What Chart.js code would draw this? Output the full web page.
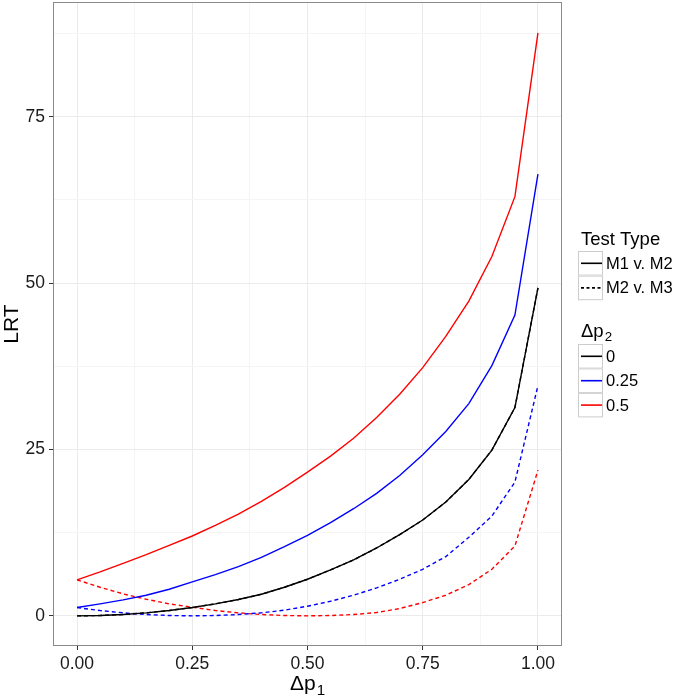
<!DOCTYPE html>
<html>
<head>
<meta charset="utf-8">
<script src="https://cdn.jsdelivr.net/npm/chart.js@4.4.1/dist/chart.umd.min.js"></script>
<style>
  html, body { margin: 0; padding: 0; background: #fff; }
  #wrap { width: 677px; height: 696px; }
</style>
</head>
<body>
<div id="wrap"><canvas id="chart" width="677" height="696"></canvas></div>
<script>
// x values (delta p1)
const dp1 = [0, 0.05, 0.1, 0.15, 0.2, 0.25, 0.3, 0.35, 0.4, 0.45, 0.5,
             0.55, 0.6, 0.65, 0.7, 0.75, 0.8, 0.85, 0.9, 0.95, 1];

// M1 v. M2 (solid)
const m12_dp0  = [0, 0.05, 0.2, 0.45, 0.8, 1.25, 1.8, 2.45, 3.25, 4.3, 5.5,
                  6.9, 8.4, 10.2, 12.2, 14.4, 17.1, 20.5, 24.9, 31.3, 49.3];
const m12_dp25 = [1.25, 1.8, 2.4, 3.1, 4.0, 5.1, 6.2, 7.4, 8.8, 10.4, 12.1,
                  14.0, 16.1, 18.4, 21.1, 24.2, 27.7, 31.9, 37.6, 45.2, 66.4];
const m12_dp50 = [5.4, 6.6, 7.9, 9.2, 10.6, 12.0, 13.6, 15.3, 17.2, 19.3, 21.6,
                  24.0, 26.7, 29.8, 33.3, 37.3, 42.0, 47.3, 54.0, 63.0, 87.6];

// M2 v. M3 (dashed) - the dp2 = 0 curve sits under the solid black one
const m23_dp0  = [0, 0.05, 0.2, 0.45, 0.8, 1.25, 1.8, 2.45, 3.25, 4.3, 5.5,
                  6.9, 8.4, 10.2, 12.2, 14.4, 17.1, 20.5, 24.9, 31.3, 49.3];
const m23_dp25 = [1.25, 0.8, 0.45, 0.2, 0.05, 0, 0.05, 0.2, 0.45, 0.85, 1.45,
                  2.2, 3.1, 4.2, 5.5, 7.0, 8.9, 11.8, 15.0, 20.1, 34.6];
const m23_dp50 = [5.4, 4.3, 3.3, 2.5, 1.8, 1.3, 0.8, 0.45, 0.2, 0.05, 0,
                  0.05, 0.2, 0.5, 1.1, 2.0, 3.1, 4.7, 7.0, 10.5, 21.9];

// axes
const xTicks = [0, 0.25, 0.5, 0.75, 1];
const xTickLabels = ['0.00', '0.25', '0.50', '0.75', '1.00'];
const xMinor = [0.125, 0.375, 0.625, 0.875];
const yTicks = [0, 25, 50, 75];
const yTickLabels = ['0', '25', '50', '75'];
const yMinor = [12.5, 37.5, 62.5, 87.5];

// legend
const testTypes = ['M1 v. M2', 'M2 v. M3'];
const dp2Labels = ['0', '0.25', '0.5'];
const dp2Colors = ['#000000', '#0000ff', '#ff0000'];

const FONT = 'Helvetica, "Liberation Sans", Arial, sans-serif';

const pts = (ys) => dp1.map((x, i) => ({ x: x, y: ys[i] }));

function series(label, ys, color, dashed) {
  return {
    label: label,
    data: pts(ys),
    borderColor: color,
    borderWidth: 1.4,
    borderDash: dashed ? [4, 3] : [],
    pointRadius: 0,
    tension: 0,
    fill: false
  };
}

// index 0 is drawn on top
const datasets = [
  series('M1 v. M2, 0', m12_dp0, dp2Colors[0], false),
  series('M1 v. M2, 0.25', m12_dp25, dp2Colors[1], false),
  series('M1 v. M2, 0.5', m12_dp50, dp2Colors[2], false),
  series('M2 v. M3, 0.25', m23_dp25, dp2Colors[1], true),
  series('M2 v. M3, 0.5', m23_dp50, dp2Colors[2], true),
  series('M2 v. M3, 0', m23_dp0, dp2Colors[0], true)
];

function gridFor(major, minor, labels) {
  return {
    afterBuildTicks: (s) => {
      s.ticks = major.concat(minor).sort((a, b) => a - b).map(v => ({ value: v }));
    },
    ticks: {
      autoSkip: false,
      maxRotation: 0,
      padding: 4,
      color: '#1a1a1a',
      font: { family: FONT, size: 17.5 },
      callback: (v) => {
        const i = major.indexOf(v);
        return i >= 0 ? labels[i] : '';
      }
    },
    grid: {
      color: (c) => major.indexOf(c.tick.value) >= 0 ? '#ebebeb' : '#f5f5f5',
      lineWidth: 1,
      tickLength: 5,
      tickWidth: 1,
      tickColor: (c) => major.indexOf(c.tick.value) >= 0 ? '#333333' : 'rgba(0,0,0,0)'
    },
    border: { display: false }
  };
}

const xScale = Object.assign({ type: 'linear', min: -0.05, max: 1.05,
  afterFit: (s) => { s.height = 51; s.paddingLeft = 0; s.paddingRight = 0; }
}, gridFor(xTicks, xMinor, xTickLabels));

const yScale = Object.assign({ type: 'linear', min: -4.38, max: 92.1,
  afterFit: (s) => { s.width = 54; s.paddingTop = 0; s.paddingBottom = 0; },
  title: { display: true, text: 'LRT', color: '#000',
           font: { family: FONT, size: 21 }, padding: { top: 0, bottom: 0 } }
}, gridFor(yTicks, yMinor, yTickLabels));

// draws text with a lowered, smaller subscript
function subText(ctx, base, sub, x, y, size, align) {
  ctx.font = size + 'px ' + FONT;
  const wb = ctx.measureText(base).width;
  const subSize = size * 0.72;
  ctx.font = subSize + 'px ' + FONT;
  const ws = ctx.measureText(sub).width;
  let x0 = x;
  if (align === 'center') x0 = x - (wb + ws + 1) / 2;
  ctx.textAlign = 'left';
  ctx.textBaseline = 'alphabetic';
  ctx.font = size + 'px ' + FONT;
  ctx.fillText(base, x0, y);
  ctx.font = subSize + 'px ' + FONT;
  ctx.fillText(sub, x0 + wb + 1, y + size * 0.22);
}

const ggExtras = {
  id: 'ggExtras',
  afterDraw(chart) {
    const ctx = chart.ctx;
    const a = chart.chartArea;
    ctx.save();

    // panel border
    ctx.strokeStyle = '#8a8a8a';
    ctx.lineWidth = 1;
    ctx.setLineDash([]);
    ctx.strokeRect(a.left - 0.5, a.top - 0.5, a.right - a.left + 1, a.bottom - a.top + 1);

    // x axis title
    ctx.fillStyle = '#000';
    subText(ctx, '\u0394p', '1', (a.left + a.right) / 2, 690, 21, 'center');

    // legend: Test Type
    const boxX = 578, boxW = 25, rowH = 24.6, labX = 606;
    ctx.font = '18.5px ' + FONT;
    ctx.textAlign = 'left';
    ctx.textBaseline = 'alphabetic';
    ctx.fillText('Test Type', 581, 245);

    function key(top, color, dash, label) {
      ctx.fillStyle = '#fff';
      ctx.fillRect(boxX, top, boxW, rowH);
      ctx.strokeStyle = '#cccccc';
      ctx.lineWidth = 1;
      ctx.setLineDash([]);
      ctx.strokeRect(boxX + 0.5, top + 0.5, boxW - 1, rowH - 1);
      ctx.strokeStyle = color;
      ctx.lineWidth = 1.6;
      ctx.setLineDash(dash);
      ctx.beginPath();
      ctx.moveTo(boxX + 3, top + rowH / 2);
      ctx.lineTo(boxX + boxW - 1, top + rowH / 2);
      ctx.stroke();
      ctx.setLineDash([]);
      ctx.fillStyle = '#000';
      ctx.font = '16.5px ' + FONT;
      ctx.textBaseline = 'middle';
      ctx.fillText(label, labX, top + rowH / 2 + 1);
      ctx.textBaseline = 'alphabetic';
    }

    key(251, '#000', [], testTypes[0]);
    key(251 + rowH, '#000', [3, 2.5], testTypes[1]);

    // legend: delta p2
    ctx.fillStyle = '#000';
    subText(ctx, '\u0394p', '2', 581, 337, 18.5, 'left');
    for (let i = 0; i < dp2Labels.length; i++) {
      key(344 + i * 24.4, dp2Colors[i], [], dp2Labels[i]);
    }

    ctx.restore();
  }
};

new Chart(document.getElementById('chart'), {
  type: 'line',
  data: { datasets: datasets },
  options: {
    responsive: false,
    animation: false,
    layout: { padding: { top: 3, right: 116, bottom: 0, left: 0 } },
    plugins: {
      legend: { display: false },
      tooltip: { enabled: false }
    },
    scales: { x: xScale, y: yScale }
  },
  plugins: [ggExtras]
});
</script>
</body>
</html>
